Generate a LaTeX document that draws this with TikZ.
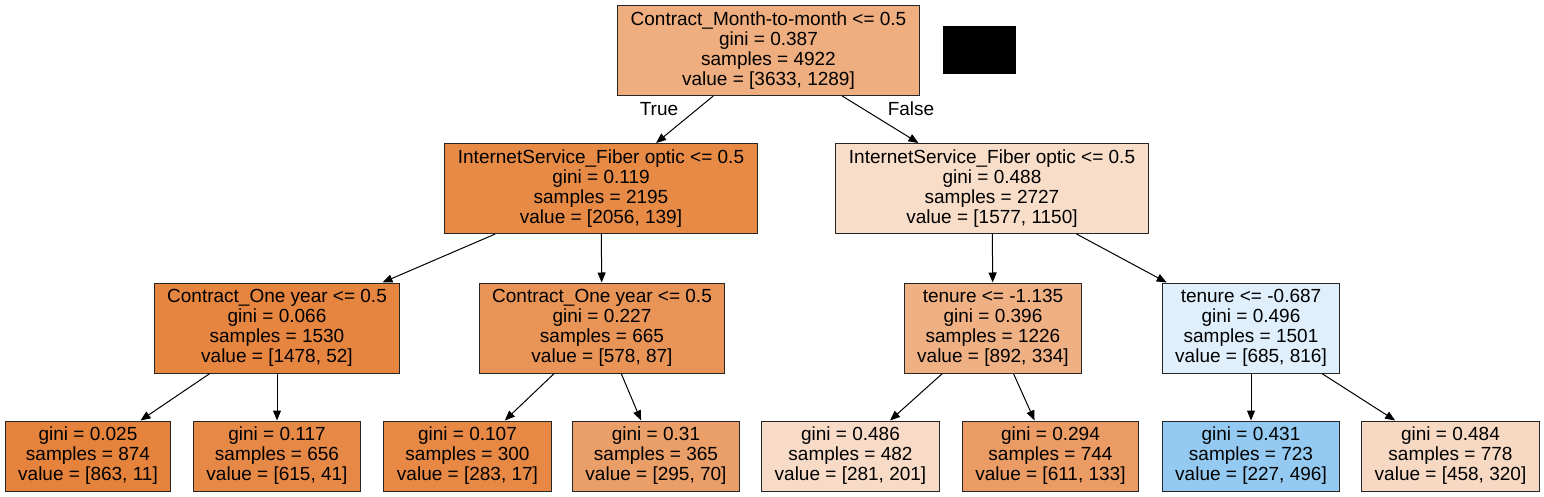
\documentclass[tikz,border=0pt]{standalone}
\usepackage{fontspec}
\setmainfont{Liberation Sans}
\usetikzlibrary{arrows.meta}
\definecolor{cRoot}{RGB}{238,174,127}
\definecolor{cFiberT}{RGB}{231,138,70}
\definecolor{cFiberF}{RGB}{248,221,201}
\definecolor{cOneA}{RGB}{230,133,64}
\definecolor{cOneB}{RGB}{233,148,87}
\definecolor{cTenA}{RGB}{239,176,131}
\definecolor{cTenB}{RGB}{223,239,251}
\definecolor{cLeafA}{RGB}{229,131,60}
\definecolor{cLeafB}{RGB}{231,137,70}
\definecolor{cLeafC}{RGB}{231,137,69}
\definecolor{cLeafD}{RGB}{235,159,104}
\definecolor{cLeafE}{RGB}{248,219,199}
\definecolor{cLeafF}{RGB}{235,156,100}
\definecolor{cLeafG}{RGB}{148,202,241}
\definecolor{cLeafH}{RGB}{247,217,195}
\tikzset{
  splitbox/.style={draw=black!85, line width=1pt, align=center, inner xsep=13pt,
    minimum height=90pt, font=\fontsize{19}{20}\selectfont},
  leafbox/.style={splitbox, minimum height=70pt},
  edge/.style={-{Triangle[length=10pt,width=8pt]}, line width=1pt},
  edgelabel/.style={font=\fontsize{19}{20}\selectfont}
}
\begin{document}
\begin{tikzpicture}[x=1pt,y=-1pt]
\useasboundingbox (0,0) rectangle (1544,497);
\node[splitbox, fill=cRoot] (root) at (768.5,50.5) {Contract\_Month-to-month <= 0.5\\gini = 0.387\\samples = 4922\\value = [3633, 1289]};
\fill[black] (943,26) rectangle (1016,74);
\node[splitbox, fill=cFiberT] (fiberT) at (601,188.5) {InternetService\_Fiber optic <= 0.5\\gini = 0.119\\samples = 2195\\value = [2056, 139]};
\node[splitbox, fill=cFiberF] (fiberF) at (992,188.5) {InternetService\_Fiber optic <= 0.5\\gini = 0.488\\samples = 2727\\value = [1577, 1150]};
\node[splitbox, fill=cOneA] (oneA) at (277,328) {Contract\_One year <= 0.5\\gini = 0.066\\samples = 1530\\value = [1478, 52]};
\node[splitbox, fill=cOneB] (oneB) at (602,328) {Contract\_One year <= 0.5\\gini = 0.227\\samples = 665\\value = [578, 87]};
\node[splitbox, fill=cTenA] (tenA) at (993,328) {tenure <= -1.135\\gini = 0.396\\samples = 1226\\value = [892, 334]};
\node[splitbox, fill=cTenB] (tenB) at (1251,328) {tenure <= -0.687\\gini = 0.496\\samples = 1501\\value = [685, 816]};
\node[leafbox, fill=cLeafA] (leafA) at (88,456) {gini = 0.025\\samples = 874\\value = [863, 11]};
\node[leafbox, fill=cLeafB] (leafB) at (277,456) {gini = 0.117\\samples = 656\\value = [615, 41]};
\node[leafbox, fill=cLeafC] (leafC) at (467.5,456) {gini = 0.107\\samples = 300\\value = [283, 17]};
\node[leafbox, fill=cLeafD] (leafD) at (656,456) {gini = 0.31\\samples = 365\\value = [295, 70]};
\node[leafbox, fill=cLeafE] (leafE) at (850.5,456) {gini = 0.486\\samples = 482\\value = [281, 201]};
\node[leafbox, fill=cLeafF] (leafF) at (1050.5,456) {gini = 0.294\\samples = 744\\value = [611, 133]};
\node[leafbox, fill=cLeafG] (leafG) at (1251,456) {gini = 0.431\\samples = 723\\value = [227, 496]};
\node[leafbox, fill=cLeafH] (leafH) at (1450.5,456) {gini = 0.484\\samples = 778\\value = [458, 320]};
\draw[edge] (root) -- (fiberT);
\draw[edge] (root) -- (fiberF);
\draw[edge] (fiberT) -- (oneA);
\draw[edge] (fiberT) -- (oneB);
\draw[edge] (fiberF) -- (tenA);
\draw[edge] (fiberF) -- (tenB);
\draw[edge] (oneA) -- (leafA);
\draw[edge] (oneA) -- (leafB);
\draw[edge] (oneB) -- (leafC);
\draw[edge] (oneB) -- (leafD);
\draw[edge] (tenA) -- (leafE);
\draw[edge] (tenA) -- (leafF);
\draw[edge] (tenB) -- (leafG);
\draw[edge] (tenB) -- (leafH);
\node[edgelabel] (lblTrue) at (659,109) {True};
\node[edgelabel] (lblFalse) at (911,109) {False};
\end{tikzpicture}
\end{document}
